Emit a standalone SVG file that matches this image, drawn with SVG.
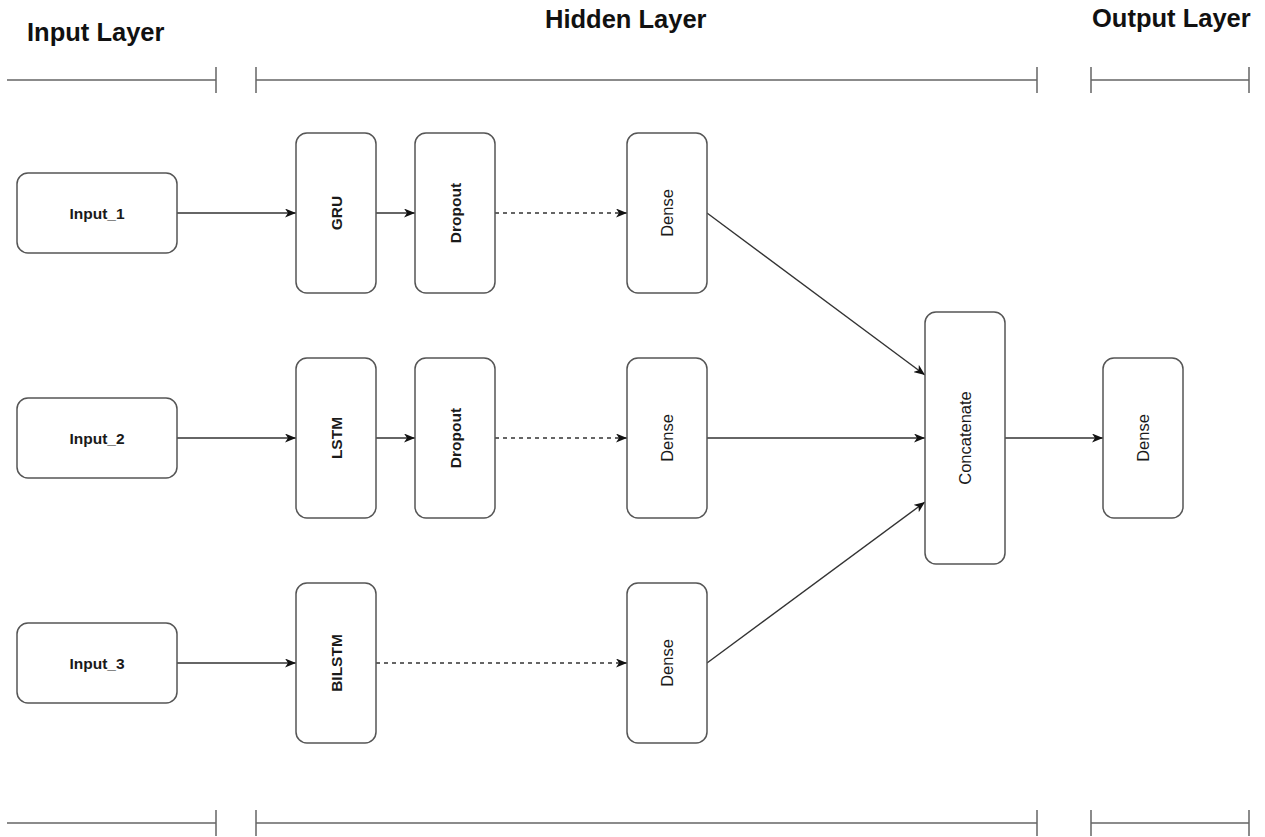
<svg xmlns="http://www.w3.org/2000/svg" width="1265" height="837" viewBox="0 0 1265 837">
<style>
.box{fill:#fff;stroke:#555;stroke-width:1.5}
.sec{stroke:#666;stroke-width:1.5;fill:none}
.edge{stroke:#333;stroke-width:1.4;fill:none}
.dash{stroke-dasharray:4 4}
.h{font-family:"Liberation Sans",Arial,sans-serif;font-weight:bold;font-size:25.5px;fill:#111}
.lb{font-family:"Liberation Sans",Arial,sans-serif;font-size:16.5px;fill:#1a1a1a;text-anchor:middle;dominant-baseline:central}
.b{font-weight:bold;font-size:15.5px}
</style>
<defs>
<marker id="arr" viewBox="0 0 11 9" refX="11" refY="4.5" markerWidth="11" markerHeight="9" markerUnits="userSpaceOnUse" orient="auto">
<path d="M0,0 L11,4.5 L0,9 L3,4.5 Z" fill="#111"/>
</marker>
</defs>
<rect width="1265" height="837" fill="#fff"/>
<g id="headers">
<text class="h" x="27" y="41">Input Layer</text>
<text class="h" x="545" y="28">Hidden Layer</text>
<text class="h" x="1092" y="27">Output Layer</text>
</g>
<g id="section-lines">
<path class="sec" d="M7,80 H216 M216,67 V93 M256,67 V93 M256,80 H1037 M1037,67 V93 M1091,67 V93 M1091,80 H1249 M1249,67 V93"/>
<path class="sec" d="M7,823 H216 M216,810 V836 M256,810 V836 M256,823 H1037 M1037,810 V836 M1091,810 V836 M1091,823 H1249 M1249,810 V836"/>
</g>
<g id="connectors">
<path class="edge" marker-end="url(#arr)" d="M177,213 H296"/>
<path class="edge" marker-end="url(#arr)" d="M376,213 H415"/>
<path class="edge dash" marker-end="url(#arr)" d="M495,213 H627"/>
<path class="edge" marker-end="url(#arr)" d="M177,438 H296"/>
<path class="edge" marker-end="url(#arr)" d="M376,438 H415"/>
<path class="edge dash" marker-end="url(#arr)" d="M495,438 H627"/>
<path class="edge" marker-end="url(#arr)" d="M177,663 H296"/>
<path class="edge dash" marker-end="url(#arr)" d="M376,663 H627"/>
<path class="edge" marker-end="url(#arr)" d="M707,213 L925,375"/>
<path class="edge" marker-end="url(#arr)" d="M707,438 H925"/>
<path class="edge" marker-end="url(#arr)" d="M707,663 L925,502"/>
<path class="edge" marker-end="url(#arr)" d="M1005,438 H1103"/>
</g>
<g id="input1"><rect class="box" x="17" y="173" width="160" height="80" rx="11"/><text class="lb b" x="97" y="213">Input_1</text></g>
<g id="input2"><rect class="box" x="17" y="398" width="160" height="80" rx="11"/><text class="lb b" x="97" y="438">Input_2</text></g>
<g id="input3"><rect class="box" x="17" y="623" width="160" height="80" rx="11"/><text class="lb b" x="97" y="663">Input_3</text></g>
<g id="gru"><rect class="box" x="296" y="133" width="80" height="160" rx="11"/><text class="lb b" transform="translate(336,213) rotate(-90)">GRU</text></g>
<g id="lstm"><rect class="box" x="296" y="358" width="80" height="160" rx="11"/><text class="lb b" transform="translate(336,438) rotate(-90)">LSTM</text></g>
<g id="bilstm"><rect class="box" x="296" y="583" width="80" height="160" rx="11"/><text class="lb b" transform="translate(336,663) rotate(-90)">BILSTM</text></g>
<g id="dropout1"><rect class="box" x="415" y="133" width="80" height="160" rx="11"/><text class="lb b" transform="translate(455,213) rotate(-90)">Dropout</text></g>
<g id="dropout2"><rect class="box" x="415" y="358" width="80" height="160" rx="11"/><text class="lb b" transform="translate(455,438) rotate(-90)">Dropout</text></g>
<g id="dense1"><rect class="box" x="627" y="133" width="80" height="160" rx="11"/><text class="lb" transform="translate(667,213) rotate(-90)">Dense</text></g>
<g id="dense2"><rect class="box" x="627" y="358" width="80" height="160" rx="11"/><text class="lb" transform="translate(667,438) rotate(-90)">Dense</text></g>
<g id="dense3"><rect class="box" x="627" y="583" width="80" height="160" rx="11"/><text class="lb" transform="translate(667,663) rotate(-90)">Dense</text></g>
<g id="concatenate"><rect class="box" x="925" y="312" width="80" height="252" rx="11"/><text class="lb" transform="translate(965,438) rotate(-90)">Concatenate</text></g>
<g id="dense-out"><rect class="box" x="1103" y="358" width="80" height="160" rx="11"/><text class="lb" transform="translate(1143,438) rotate(-90)">Dense</text></g>
</svg>
